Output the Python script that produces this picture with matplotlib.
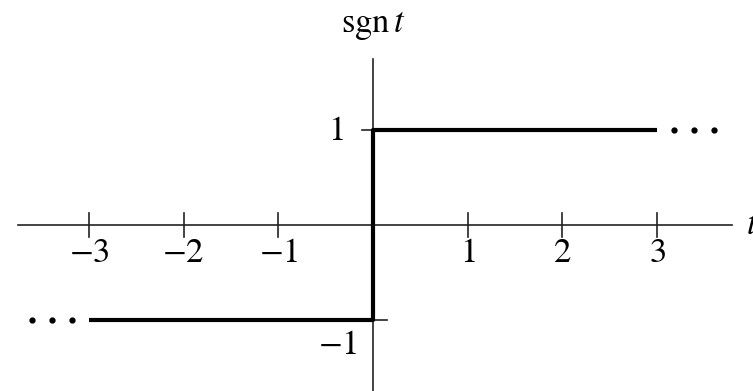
import matplotlib.pyplot as plt

plt.rcParams['mathtext.fontset'] = 'stix'
plt.rcParams['font.family'] = 'STIXGeneral'

# signum function, drawn as a step
t_vals = [-3, 0, 0, 3]
sgn_vals = [-1, -1, 1, 1]
x_ticks = [-3, -2, -1, 1, 2, 3]
y_ticks = [-1, 1]
dot_offsets = [0.18, 0.39, 0.6]

fig = plt.figure(figsize=(7.53, 3.91), dpi=100)
ax = fig.add_axes([0, 0, 1, 1])
ax.set_xlim(-3.939, 4.013)
ax.set_ylim(-1.747, 2.368)
ax.axis('off')

axis_col = '#222222'
fs = 25

# axes
ax.plot([-3.75, 3.79], [0, 0], color=axis_col, lw=1.2)
ax.plot([0, 0], [-1.8, 1.75], color=axis_col, lw=1.2)

for x in x_ticks:
    ax.plot([x, x], [-0.126, 0.126], color=axis_col, lw=1.2)
    ax.text(x, -0.39, '$%d$' % x, ha='center', va='baseline', fontsize=fs)
for y in y_ticks:
    ax.plot([-0.12, 0.15], [y, y], color=axis_col, lw=1.2)
ax.text(-0.31, 0.98, '$1$', ha='right', va='center', fontsize=fs)
ax.text(-0.16, -1.27, '$-1$', ha='right', va='center', fontsize=fs)

# step lines
ax.plot(t_vals, sgn_vals, color='black', lw=3, solid_capstyle='butt')

# continuation dots
for d in dot_offsets:
    ax.plot(t_vals[-1] + d, sgn_vals[-1], 'o', color='black', ms=3.5)
    ax.plot(t_vals[0] - d, sgn_vals[0], 'o', color='black', ms=3.5)

ax.text(0.0, 2.03, r'$\mathrm{sgn}\,t$', ha='center', va='baseline', fontsize=fs)
ax.text(3.94, -0.095, '$t$', ha='left', va='baseline', fontsize=fs)

fig.savefig('out.png', dpi=100)
